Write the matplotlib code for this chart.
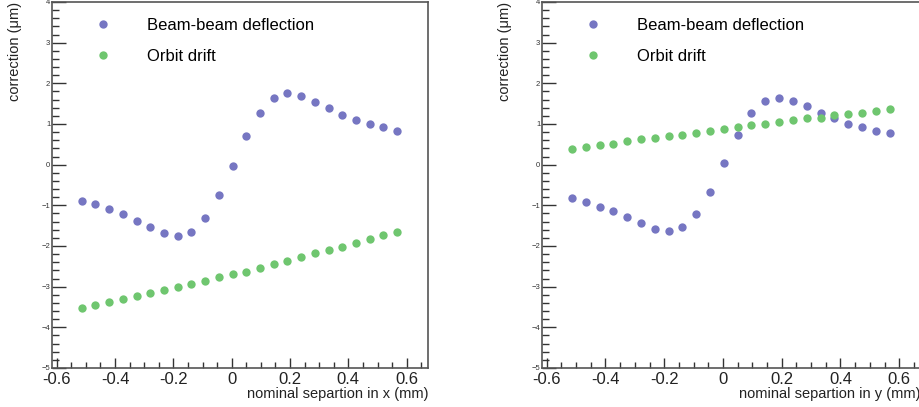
# Beam-beam deflection and orbit drift corrections vs nominal separation
import matplotlib
matplotlib.use('Agg')
import matplotlib.pyplot as plt
from matplotlib.ticker import MultipleLocator, FormatStrFormatter

plt.rcParams['font.family'] = ['Liberation Sans', 'DejaVu Sans']

# Data
separation = [-0.514, -0.467, -0.420, -0.373, -0.326, -0.279, -0.232, -0.185,
              -0.138, -0.091, -0.044, 0.003, 0.050, 0.097, 0.144, 0.191,
              0.238, 0.285, 0.332, 0.379, 0.426, 0.473, 0.520, 0.567]

bb_x = [-0.90, -0.97, -1.10, -1.21, -1.39, -1.53, -1.68, -1.76,
        -1.65, -1.32, -0.75, -0.03, 0.70, 1.28, 1.64, 1.76,
        1.69, 1.55, 1.40, 1.23, 1.11, 0.99, 0.92, 0.82]
drift_x = [-3.52, -3.45, -3.37, -3.31, -3.22, -3.15, -3.09, -3.01,
           -2.93, -2.86, -2.77, -2.70, -2.63, -2.53, -2.45, -2.36,
           -2.28, -2.18, -2.10, -2.02, -1.92, -1.83, -1.73, -1.65]

bb_y = [-0.83, -0.93, -1.03, -1.15, -1.29, -1.43, -1.58, -1.63,
        -1.54, -1.22, -0.66, 0.04, 0.72, 1.26, 1.57, 1.64,
        1.57, 1.45, 1.28, 1.14, 1.01, 0.92, 0.84, 0.77]
drift_y = [0.38, 0.43, 0.48, 0.52, 0.58, 0.63, 0.65, 0.70,
           0.74, 0.79, 0.84, 0.87, 0.92, 0.97, 1.01, 1.04,
           1.09, 1.14, 1.15, 1.21, 1.24, 1.28, 1.31, 1.36]

labels = ['Beam-beam deflection', 'Orbit drift']
colors = ['#7676c2', '#6fc66f']
xlabels = ['nominal separtion in x (mm)', 'nominal separtion in y (mm)']
ylabel = 'correction (\u03bcm)'

W, H = 920, 407


def style_axes(ax, xlabel):
    ax.set_xlim(-0.617, 0.674)
    ax.set_ylim(-5, 4)
    for side in ['left', 'bottom', 'top', 'right']:
        ax.spines[side].set_color('#555555')
        ax.spines[side].set_linewidth(1.2)
    ax.xaxis.set_major_locator(MultipleLocator(0.2))
    ax.xaxis.set_minor_locator(MultipleLocator(0.05))
    ax.xaxis.set_major_formatter(FormatStrFormatter('%g'))
    ax.yaxis.set_major_locator(MultipleLocator(1))
    ax.yaxis.set_minor_locator(MultipleLocator(0.2))
    ax.tick_params(axis='x', which='major', direction='in', length=7, width=1,
                   color='#333333', labelsize=12, pad=3, labelcolor='#222222')
    ax.tick_params(axis='x', which='minor', direction='in', length=4, width=1, color='#333333')
    ax.tick_params(axis='y', which='major', direction='in', length=10, width=1,
                   color='#333333', labelsize=5.5, pad=1, labelcolor='#333333')
    ax.tick_params(axis='y', which='minor', direction='in', length=5, width=1, color='#333333')
    ax.set_xlabel(xlabel, fontsize=10.5, color='#222222', loc='right', labelpad=0)
    ax.set_ylabel(ylabel, fontsize=10.5, color='#222222', loc='top', labelpad=14)
    ax.legend(frameon=False, loc='upper left', bbox_to_anchor=(0.066, 0.984),
              fontsize=12, handletextpad=1.63, labelspacing=0.95, markerscale=1.0,
              borderaxespad=0.2)


fig = plt.figure(figsize=(W / 100, H / 100), dpi=100)
ax1 = fig.add_axes([51.7 / W, (H - 368) / H, (428.3 - 51.7) / W, 366 / H])
ax2 = fig.add_axes([541.7 / W, (H - 368) / H, (921 - 541.7) / W, 366 / H])

ax1.plot(separation, bb_x, 'o', color=colors[0], ms=6, mew=0, label=labels[0])
ax1.plot(separation, drift_x, 'o', color=colors[1], ms=6, mew=0, label=labels[1])
style_axes(ax1, xlabels[0])

ax2.plot(separation, bb_y, 'o', color=colors[0], ms=6, mew=0, label=labels[0])
ax2.plot(separation, drift_y, 'o', color=colors[1], ms=6, mew=0, label=labels[1])
style_axes(ax2, xlabels[1])

fig.savefig('out.png', dpi=100)
